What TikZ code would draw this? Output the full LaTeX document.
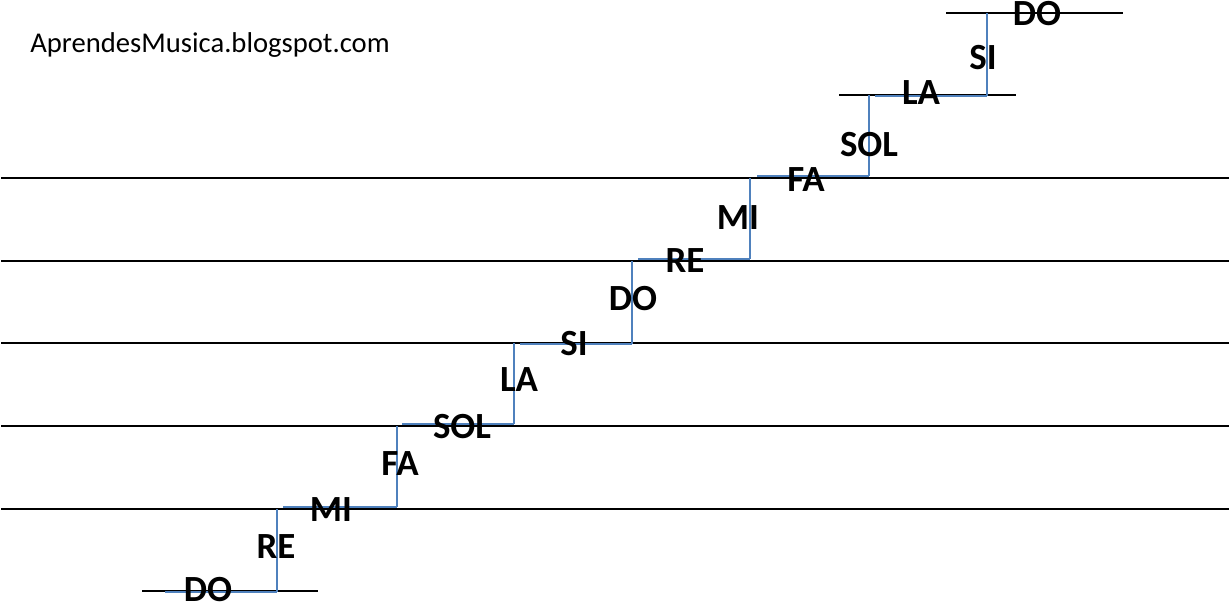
\documentclass[tikz,border=0pt]{standalone}
\usepackage{fontspec}
\setmainfont{Carlito}
\definecolor{stairblue}{HTML}{4F81BD}
\begin{document}
\begin{tikzpicture}[x=0.02cm, y=-0.02cm, line cap=butt,
	staff/.style={line width=1.1pt, black},
	stair/.style={line width=0.9pt, stairblue},
	note/.style={font=\fontsize{21}{21}\selectfont\bfseries, inner sep=0pt}]
		\path
		(0,0) coordinate (nw)
		(1230,604) coordinate (se)
		;
		\useasboundingbox (nw) rectangle (se);
		% staff
		\foreach \y in {178,261,343,426,509}
		\draw[staff] (1,\y) -- (1229,\y)
		;
		% ledger lines
		\draw[staff]
		(142,591) -- (318,591)
		(839,95) -- (1016,95)
		(946,13) -- (1123,13)
		;
		% stair: left end / riser x / tread y / riser top
		\foreach \a/\b/\y/\t in {165/277/592/509,283/397/507/426,402/514/424/343,520/632/344/261,638/750/259/178,757/869/176/95,875/987/96/13}
		\draw[stair] (\a,\y) -- (\b,\y) (\b,\y) -- (\b,\t)
		;
		% notes
		\foreach \n/\x/\y/\name in {DO/208/590/do1,RE/276/547/re1,MI/331/510/mi1,FA/400/464/fa1,SOL/462/427/sol1,LA/519/380/la1,SI/574/344/si1,DO/633/299/do2,RE/685/261/re2,MI/738/218/mi2,FA/806/180/fa2,SOL/869/145/sol2,LA/921/93/la2,SI/983/58/si2,DO/1037/14/do3}
		\node[note] (\name) at (\x,\y) {\n}
		;
		\node[anchor=base west, inner sep=0pt, font=\fontsize{16.3}{16.3}\selectfont] (blog) at (30,53) {AprendesMusica.blogspot.com};
	\end{tikzpicture}
\end{document}
